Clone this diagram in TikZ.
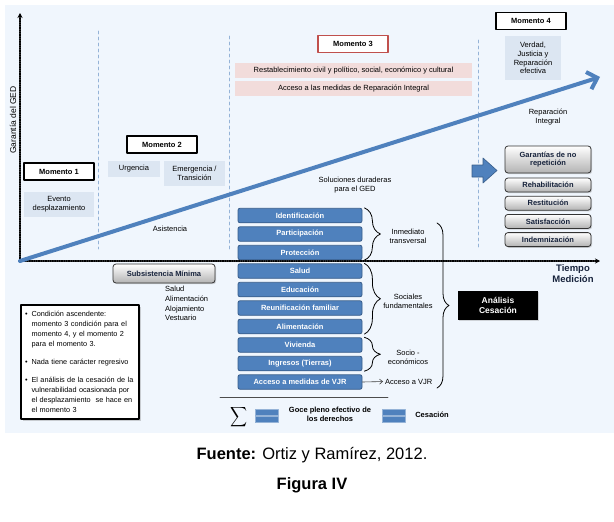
\documentclass[tikz,border=0pt]{standalone}
\usepackage{amsmath}
\usepackage{graphicx}
\usepackage{fontspec}
\setmainfont{Liberation Sans}
\usetikzlibrary{arrows.meta,decorations.pathreplacing,shadows}

\definecolor{fondo}{RGB}{240,246,253}
\definecolor{azul}{RGB}{79,129,189}
\definecolor{azulborde}{RGB}{56,93,138}
\definecolor{guia}{RGB}{149,179,215}
\definecolor{etapa}{RGB}{220,230,242}
\definecolor{rosa}{RGB}{242,220,219}
\definecolor{rojo}{RGB}{192,80,77}
\definecolor{marino}{RGB}{23,35,60}

\newcommand\chico{\fontsize{7.5}{8.8}\selectfont}

\tikzset{
  eje/.style={densely dotted, line width=1.3pt, -{Stealth[length=5pt,width=5pt]}},
  tendencia/.style={azul, line width=4pt, -{Straight Barb[length=9pt,width=18pt]}},
  momento/.style={draw=black, line width=1.2pt, fill=white, font=\chico\bfseries,
    minimum width=70pt, minimum height=17pt, inner sep=1pt},
  fase/.style={fill=etapa, font=\chico, align=center, inner sep=1pt},
  medida/.style={fill=rosa, font=\chico, minimum width=237pt, minimum height=15pt, inner sep=1pt},
  derecho/.style={draw=azulborde, line width=.8pt, fill=azul, rounded corners=2pt, text=white,
    font=\chico\bfseries, minimum width=124pt, minimum height=14.5pt, inner sep=0pt},
  garantia/.style={draw=black!80, line width=.8pt, rounded corners=3pt, top color=white,
    bottom color=black!30, text=marino, font=\chico\bfseries, align=center,
    minimum width=86pt, minimum height=14pt, inner sep=0pt,
    drop shadow={shadow xshift=1.2pt, shadow yshift=-1.2pt, opacity=.3}},
  texto/.style={font=\chico, align=center, inner sep=0pt},
  llave/.style={decorate, decoration={brace, amplitude=16pt}, line width=.8pt},
}

\begin{document}
\begin{tikzpicture}[x=1pt, y=-1pt, line join=round, line cap=round]
  \fill[white] (0,0) rectangle (614,522);
  \useasboundingbox (0,0) rectangle (614,522);
  \fill[fondo] (5,5) rectangle (614,433);
  % separadores entre momentos
  \foreach \x/\ya in {98/31, 229/36, 478/40}
    \draw[guia, dashed, line width=.6pt] (\x,\ya) -- (\x,249);
  % ejes
  \coordinate (O) at (20,261);
  \coordinate (ytop) at (20,13);
  \coordinate (xfin) at (600,261);
  \draw[eje] (O) -- (ytop);
  \draw[eje] (O) -- (xfin);
  \node[texto, rotate=90, font=\fontsize{8.5}{10}\selectfont] (garantia) at (13,120) {Garantía del GED};
  \node[texto, font=\fontsize{9.5}{11}\selectfont\bfseries, text=marino] (tiempo) at (573,274) {Tiempo\\Medición};
  \coordinate (fin) at (600,77);
  \draw[tendencia] (O) -- (fin);

  % momentos 1 y 2
  \node[momento] (m1) at (59,171.5) {Momento 1};
  \node[fase, minimum width=70pt, minimum height=25pt] (evento) at (59,204.5) {Evento\\desplazamiento};
  \node[momento] (m2) at (162,144.5) {Momento 2};
  \node[fase, minimum width=52pt, minimum height=16pt] (urgencia) at (134,169) {Urgencia};
  \node[fase, minimum width=61pt, minimum height=25pt] (emergencia) at (194.5,173.5) {Emergencia /\\Transición};
  \node[texto] (asistencia) at (170,229) {Asistencia};

  % momento 3
  \node[momento, draw=rojo] (m3) at (353,44) {Momento 3};
  \node[medida] (restablecimiento) at (353.5,70.5) {Restablecimiento civil y político, social, económico y cultural};
  \node[medida] (reparacion) at (353.5,88.5) {Acceso a las medidas de Reparación Integral};
  \node[texto] (soluciones) at (355,185) {Soluciones duraderas\\para el GED};

  % momento 4
  \node[momento] (m4) at (531,21) {Momento 4};
  \node[fase, minimum width=56pt, minimum height=44pt] (verdad) at (533,58) {Verdad,\\Justicia y\\Reparación\\efectiva};
  \node[texto] (integral) at (548,117) {Reparación\\Integral};
  \node[garantia, minimum height=27pt] (norep) at (548,159.5) {Garantías de no\\repetición};
  \foreach \nombre/\texto [count=\i] in {rehab/Rehabilitación, restit/Restitución, satisf/Satisfacción, indem/Indemnización}
    \node[garantia] (\nombre) at (548,{166.8+18.2*\i}) {\texto};
  \filldraw[fill=azul, draw=azulborde, line width=.6pt]
    (472,165) -- (483,165) -- (483,158) -- (497,170.5) -- (483,183) -- (483,177) -- (472,177) -- cycle;

  % derechos
  \foreach \nombre/\texto [count=\i] in {ident/Identificación, part/Participación, prot/Protección,
      salud/Salud, edu/Educación, reun/Reunificación familiar, alim/Alimentación,
      viv/Vivienda, ing/Ingresos (Tierras), vjr/Acceso a medidas de VJR}
    \node[derecho] (\nombre) at (300,{197+18.5*\i}) {\texto};
  \draw[llave] ([xshift=2pt]ident.north east) -- ([xshift=2pt]prot.south east);
  \draw[llave] ([xshift=2pt]salud.north east) -- ([xshift=2pt]alim.south east);
  \draw[llave] ([xshift=2pt]viv.north east) -- ([xshift=2pt]ing.south east);
  \node[texto] (inmediato) at (408,236) {Inmediato\\transversal};
  \node[texto] (sociales) at (408,301) {Sociales\\fundamentales};
  \node[texto] (socioeco) at (408,357) {Socio -\\económicos};
  \node[texto, anchor=west] (accvjr) at (385,381.5) {Acceso a VJR};
  \draw[black!75, line width=.6pt, -{Straight Barb[length=3pt,width=5pt]}, shorten >=2pt] (vjr.east) -- (accvjr.west);
  \coordinate (llavearriba) at (437,223);
  \coordinate (llaveabajo) at (437,388);
  \draw[llave, decoration={brace, amplitude=12pt}] (llavearriba) -- (llaveabajo);
  \node[fill=black, text=white, font=\fontsize{8.5}{10.5}\selectfont\bfseries, align=center,
    minimum width=80pt, minimum height=29pt, inner sep=0pt,
    drop shadow={shadow xshift=1.2pt, shadow yshift=-1.2pt, opacity=.3}] (analisis) at (498,305.5) {Análisis\\Cesación};

  % asistencia minima
  \node[garantia, minimum width=102pt, minimum height=19pt] (subsistencia) at (164,273.5) {Subsistencia Mínima};
  \node[texto, anchor=north west, align=left, font=\fontsize{7.5}{9.7}\selectfont] (necesidades) at (165,286) {Salud\\Alimentación\\Alojamiento\\Vestuario};

  % nota
  \node[draw=black, line width=1.2pt, fill=white, text width=110pt, inner xsep=4pt, align=left,
    minimum height=114pt, font=\fontsize{7.3}{10}\selectfont,
    drop shadow={shadow xshift=1.5pt, shadow yshift=-1.5pt, opacity=.35}] (nota) at (80,362) {%
    \begin{tabular}{@{}l@{\hspace{4pt}}l@{}}
      \textbullet & Condición ascendente:\\
       & momento 3 condición para el\\
       & momento 4, y el momento 2\\
       & para el momento 3.\\[8pt]
      \textbullet & Nada tiene carácter regresivo\\[8pt]
      \textbullet & El análisis de la cesación de la\\
       & vulnerabilidad ocasionada por\\
       & el desplazamiento \ se hace en\\
       & el momento 3
    \end{tabular}};

  % leyenda
  \draw[black!70, line width=.8pt] (220,397) -- (388,397);
  \node[inner sep=0pt] (suma) at (239,417) {\resizebox*{17pt}{22pt}{$\displaystyle\sum$}};
  \foreach \x in {255,382} {
    \filldraw[fill=azul, draw=azul!60!white, line width=.5pt] (\x,409) rectangle +(23,6.5);
    \filldraw[fill=azul, draw=azul!60!white, line width=.5pt] (\x,416) rectangle +(23,6.5);
  }
  \node[texto, font=\chico\bfseries] (goce) at (330,414) {Goce pleno efectivo de\\los derechos};
  \node[texto, font=\chico\bfseries] (cesacion) at (432,415) {Cesación};

  % fuente
  \node (fuente) at (312,455) {\fontsize{16.5}{18}\selectfont\textbf{Fuente:} Ortiz y Ramírez, 2012.};
  \node (figura) at (312,485) {\fontsize{16.5}{18}\selectfont\bfseries Figura IV};
\end{tikzpicture}
\end{document}
